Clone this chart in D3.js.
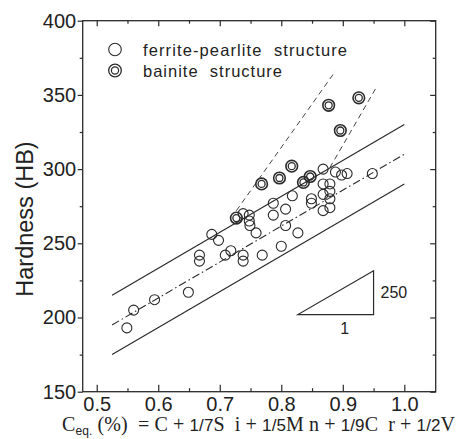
<!DOCTYPE html>
<html>
<head>
<meta charset="utf-8">
<script src="https://cdn.jsdelivr.net/npm/d3@7"></script>
<style>
  html, body { margin: 0; padding: 0; background: #fff; }
  svg { display: block; }
</style>
</head>
<body>
<svg id="chart" width="460" height="439"></svg>
<script>
// ---- data ----
const xTicks = [0.5, 0.6, 0.7, 0.8, 0.9, 1.0];
const xMinorTicks = [0.55, 0.65, 0.75, 0.85, 0.95];
const yTicks = [150, 200, 250, 300, 350, 400];
const yMinorTicks = [175, 225, 275, 325, 375];

const ferriteCeq = [0.549, 0.560, 0.594, 0.649, 0.667, 0.667, 0.687, 0.698, 0.709, 0.718,
  0.738, 0.738, 0.738, 0.748, 0.748, 0.749, 0.759, 0.769, 0.787, 0.787,
  0.800, 0.807, 0.807, 0.818, 0.827, 0.849, 0.849, 0.868, 0.868, 0.868,
  0.868, 0.879, 0.879, 0.879, 0.879, 0.888, 0.898, 0.907, 0.948];
const ferriteHB = [193, 205, 212, 217, 242, 238, 256, 252, 242, 245,
  242, 238, 270, 269, 265, 262, 257, 242, 277, 269,
  248, 273, 262, 282, 257, 280, 277, 300, 290, 283,
  272, 290, 285, 280, 274, 298, 296, 297, 297];

const bainiteCeq = [0.727, 0.768, 0.797, 0.817, 0.836, 0.847, 0.877, 0.896, 0.926];
const bainiteHB = [267, 290, 294, 302, 291, 295, 343, 326, 348];

// regression band lines (Ceq, HB)
const upperLineCeq = [0.525, 1.0], upperLineHB = [215, 330];
const centerLineCeq = [0.525, 1.0], centerLineHB = [195, 310];
const lowerLineCeq = [0.525, 1.0], lowerLineHB = [175, 290];
// bainite dashed lines
const bainLine1Ceq = [0.727, 0.888], bainLine1HB = [272, 366];
const bainLine2Ceq = [0.879, 0.953], bainLine2HB = [301, 354];
// slope triangle
const triCeq = [0.827, 0.95, 0.95], triHB = [202, 202, 231.5];

const legendLabels = ["ferrite-pearlite  structure", "bainite  structure"];

// ---- layout ----
const svg = d3.select("#chart");
const L = 82.7, R = 435.7, T = 20.7, B = 391.7;
const x = d3.scaleLinear().domain([0.4772, 1.051]).range([L, R]);
const y = d3.scaleLinear().domain([150, 400]).range([B, T]);
const ink = "#2a2a2a";
const sans = "'Liberation Sans', Arial, Helvetica, sans-serif";
const serif = "'Liberation Serif', 'DejaVu Serif', serif";

const line = d3.line().x(d => x(d[0])).y(d => y(d[1]));
const zip = (a, b) => a.map((v, i) => [v, b[i]]);

// frame
svg.append("rect").attr("x", L).attr("y", T).attr("width", R - L).attr("height", B - T)
  .attr("fill", "none").attr("stroke", ink).attr("stroke-width", 1.3);

function styleAxis(g) {
  g.select(".domain").remove();
  g.selectAll("line").attr("stroke", ink).attr("stroke-width", 1.2);
  g.selectAll("text").attr("fill", "#222").attr("font-family", sans).attr("font-size", 20);
}

// bottom axis (ticks inward)
svg.append("g").attr("transform", `translate(0,${B})`)
  .call(d3.axisBottom(x).tickValues(xTicks).tickFormat(d3.format(".1f")).tickSize(-7).tickPadding(5))
  .call(styleAxis);
svg.append("g").attr("transform", `translate(0,${B})`)
  .call(d3.axisBottom(x).tickValues(xMinorTicks).tickFormat("").tickSize(-3.5))
  .call(styleAxis);
// top axis (ticks inward)
svg.append("g").attr("transform", `translate(0,${T})`)
  .call(d3.axisTop(x).tickValues(xTicks).tickFormat("").tickSize(-5.5))
  .call(styleAxis);
svg.append("g").attr("transform", `translate(0,${T})`)
  .call(d3.axisTop(x).tickValues(xMinorTicks).tickFormat("").tickSize(-3))
  .call(styleAxis);
// left axis
svg.append("g").attr("transform", `translate(${L},0)`)
  .call(d3.axisLeft(y).tickValues(yTicks).tickSize(5).tickPadding(1.5))
  .call(styleAxis);
svg.append("g").attr("transform", `translate(${L},0)`)
  .call(d3.axisLeft(y).tickValues(yMinorTicks).tickFormat("").tickSize(3))
  .call(styleAxis);
// right axis (ticks inward)
svg.append("g").attr("transform", `translate(${R},0)`)
  .call(d3.axisRight(y).tickValues(yTicks).tickFormat("").tickSize(-5.5))
  .call(styleAxis);
svg.append("g").attr("transform", `translate(${R},0)`)
  .call(d3.axisRight(y).tickValues(yMinorTicks).tickFormat("").tickSize(-3))
  .call(styleAxis);

// band lines
svg.append("path").datum(zip(upperLineCeq, upperLineHB)).attr("d", line)
  .attr("fill", "none").attr("stroke", ink).attr("stroke-width", 1.2);
svg.append("path").datum(zip(lowerLineCeq, lowerLineHB)).attr("d", line)
  .attr("fill", "none").attr("stroke", ink).attr("stroke-width", 1.2);
svg.append("path").datum(zip(centerLineCeq, centerLineHB)).attr("d", line)
  .attr("fill", "none").attr("stroke", ink).attr("stroke-width", 1.1)
  .attr("stroke-dasharray", "8,3,1.5,3");
svg.append("path").datum(zip(bainLine1Ceq, bainLine1HB)).attr("d", line)
  .attr("fill", "none").attr("stroke", "#444").attr("stroke-width", 1)
  .attr("stroke-dasharray", "5.5,4");
svg.append("path").datum(zip(bainLine2Ceq, bainLine2HB)).attr("d", line)
  .attr("fill", "none").attr("stroke", "#444").attr("stroke-width", 1)
  .attr("stroke-dasharray", "5.5,4");

// slope triangle
svg.append("path").datum(zip(triCeq, triHB)).attr("d", d => line(d) + "Z")
  .attr("fill", "none").attr("stroke", ink).attr("stroke-width", 1.2);
svg.append("text").attr("x", x(triCeq[2]) + 7).attr("y", y((triHB[0] + triHB[2]) / 2) + 5.5)
  .attr("font-family", sans).attr("font-size", 16).attr("fill", "#222").text("250");
svg.append("text").attr("x", x((triCeq[0] + triCeq[1]) / 2) + 9).attr("y", y(triHB[0]) + 19)
  .attr("text-anchor", "middle")
  .attr("font-family", sans).attr("font-size", 16).attr("fill", "#222").text("1");

// ferrite-pearlite points
svg.append("g").selectAll("circle").data(zip(ferriteCeq, ferriteHB)).join("circle")
  .attr("cx", d => x(d[0])).attr("cy", d => y(d[1])).attr("r", 5)
  .attr("fill", "none").attr("stroke", ink).attr("stroke-width", 1.1);

// bainite points (double circles)
const bg = svg.append("g").selectAll("g").data(zip(bainiteCeq, bainiteHB)).join("g")
  .attr("transform", d => `translate(${x(d[0])},${y(d[1])})`);
bg.append("circle").attr("r", 5.8).attr("fill", "none").attr("stroke", ink).attr("stroke-width", 1.6);
bg.append("circle").attr("r", 3.5).attr("fill", "none").attr("stroke", ink).attr("stroke-width", 1.3);

// legend
svg.append("circle").attr("cx", 115).attr("cy", 49.5).attr("r", 6.3)
  .attr("fill", "none").attr("stroke", ink).attr("stroke-width", 1.1);
svg.append("circle").attr("cx", 115).attr("cy", 70.5).attr("r", 6.3)
  .attr("fill", "none").attr("stroke", ink).attr("stroke-width", 1.3);
svg.append("circle").attr("cx", 115).attr("cy", 70.5).attr("r", 3.6)
  .attr("fill", "none").attr("stroke", ink).attr("stroke-width", 1.2);
svg.append("text").attr("x", 143).attr("y", 55.5).attr("font-family", sans).attr("font-size", 16.5)
  .attr("fill", "#222").attr("textLength", 204).attr("lengthAdjust", "spacing")
  .style("white-space", "pre").text(legendLabels[0]);
svg.append("text").attr("x", 143).attr("y", 76.5).attr("font-family", sans).attr("font-size", 16.5)
  .attr("fill", "#222").attr("textLength", 139).attr("lengthAdjust", "spacing")
  .style("white-space", "pre").text(legendLabels[1]);

// y label
svg.append("text").attr("transform", "translate(33,219) rotate(-90)")
  .attr("text-anchor", "middle").attr("font-family", sans).attr("font-size", 23.5)
  .attr("fill", "#222").text("Hardness (HB)");

// x label
const xl = svg.append("text").attr("x", 62).attr("y", 431).attr("fill", "#222")
  .attr("font-family", serif).attr("font-size", 20)
  .attr("textLength", 393).attr("lengthAdjust", "spacing").style("white-space", "pre");
const parts = [
  ["C", serif, 20, 0], ["eq.", sans, 12, 4], [" (%)  = C + ", serif, 20, -4],
  ["1/7", sans, 17, 0], ["S  i + ", serif, 20, 0], ["1/5", sans, 17, 0],
  ["M n + ", serif, 20, 0], ["1/9", sans, 17, 0], ["C  r + ", serif, 20, 0],
  ["1/2", sans, 17, 0], ["V", serif, 20, 0]
];
parts.forEach(p => {
  xl.append("tspan").attr("font-family", p[1]).attr("font-size", p[2]).attr("dy", p[3]).text(p[0]);
});
</script>
</body>
</html>
